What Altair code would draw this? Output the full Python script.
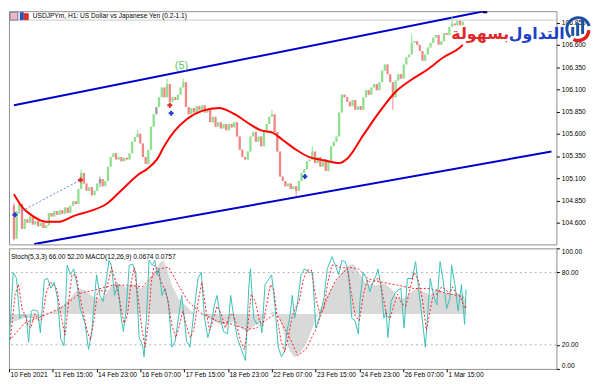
import json
import altair as alt
import pandas as pd

# ---------------- data ----------------
TITLE = "USDJPYm, H1:  US Dollar vs Japanese Yen (0.2-1.1)"
IND_TITLE = "Stoch(5,3,3) 66.00 52.20 MACD(12,26,9) 0.0674 0.0757"

date_labels = ["10 Feb 2021", "11 Feb 15:00", "14 Feb 23:00", "16 Feb 07:00", "17 Feb 15:00",
               "18 Feb 23:00", "22 Feb 07:00", "23 Feb 15:00", "24 Feb 23:00", "26 Feb 07:00",
               "1 Mar 15:00"]
tick_bars = [0, 32, 64, 96, 128, 160, 192, 224, 256, 288, 320]
price_ticks = [104.6, 104.85, 105.1, 105.35, 105.6, 105.85, 106.1, 106.35, 106.6, 106.85]
stoch_ticks = [0, 20, 80, 100]

# candles: one candle per 2 H1 bars, closes (open = previous close)
first_open = 104.79
closes = [104.42, 104.73, 104.81, 104.53, 104.64, 104.60, 104.67, 104.58, 104.62, 104.56,
          104.60, 104.54, 104.57, 104.71, 104.67, 104.73, 104.69, 104.74, 104.70, 104.77,
          104.71, 104.79, 104.84, 104.81, 104.98, 105.16, 105.04, 104.96, 105.00, 104.91,
          104.96, 105.04, 105.09, 105.01, 105.07, 105.23, 105.34, 105.38, 105.31, 105.34,
          105.29, 105.33, 105.31, 105.38, 105.51, 105.56, 105.60, 105.49, 105.34, 105.26,
          105.42, 105.68, 105.82, 105.90, 106.01, 106.12, 106.01, 106.16, 105.96, 106.01,
          105.98, 106.04, 106.12, 106.18, 105.90, 105.82, 105.89, 105.84, 105.91, 105.87,
          105.92, 105.84, 105.87, 105.73, 105.79, 105.68, 105.73, 105.66, 105.71, 105.64,
          105.71, 105.67, 105.73, 105.57, 105.42, 105.34, 105.31, 105.40, 105.57, 105.62,
          105.51, 105.57, 105.46, 105.62, 105.71, 105.79, 105.82, 105.62, 105.40, 105.12,
          105.07, 105.01, 105.04, 104.98, 105.01, 104.96, 105.07, 105.16, 105.20, 105.29,
          105.31, 105.40, 105.27, 105.34, 105.23, 105.31, 105.18, 105.29, 105.46, 105.51,
          105.57, 105.84, 106.04, 106.01, 105.96, 105.91, 105.98, 105.87, 105.91, 105.87,
          106.01, 106.09, 106.04, 106.12, 106.16, 106.09, 106.18, 106.31, 106.38, 106.27,
          106.18, 106.01, 106.20, 106.27, 106.22, 106.38, 106.46, 106.49, 106.62, 106.64,
          106.60, 106.53, 106.42, 106.49, 106.57, 106.62, 106.68, 106.71, 106.60, 106.64,
          106.73, 106.71, 106.80, 106.84, 106.82, 106.87, 106.82, 106.86]
wick_idx = [0, 25, 32, 46, 57, 63, 96, 105, 111, 141, 148, 163]
wick_high = [104.82, 105.20, 105.12, 105.64, 106.22, 106.22, 105.87, 105.01, 105.46, 106.18, 106.72, 106.92]
wick_low = [104.40, 104.98, 105.00, 105.56, 106.01, 106.12, 105.79, 104.90, 105.31, 105.87, 106.49, 106.80]
doji_idx = [32, 53]

# moving average
ma_bar = [0, 6.5, 13.6, 20.8, 23.7, 33, 45.2, 56.6, 68.8, 81,
          92.5, 99.6, 106.8, 111.8, 119, 128.3, 140.5, 152.7, 164.2, 176.3,
          183.5, 192.8, 200, 210, 219.4, 231.5, 242.3, 248, 260.2, 271.7,
          283.9, 296, 307.5, 319.7, 331.9, 334]
ma_price = [104.92, 104.77, 104.68, 104.62, 104.61, 104.61, 104.68, 104.73, 104.81, 104.98,
            105.14, 105.21, 105.32, 105.46, 105.62, 105.76, 105.86, 105.89, 105.82, 105.70,
            105.64, 105.61, 105.53, 105.42, 105.34, 105.30, 105.27, 105.32, 105.59, 105.84,
            106.07, 106.21, 106.32, 106.46, 106.57, 106.60]

# channel
chan_line = ["upper", "upper", "lower", "lower"]
chan_bar = [0, 350.5, 15.1, 400]
chan_price = [105.92, 106.98, 104.36, 105.40]

# trade markers
mark_bar_pos = [0.7, 117, 216.5, 49.5, 116]
mark_price = [104.69, 105.83, 105.12, 105.08, 105.92]
mark_kind = ["buy", "buy", "buy", "sell", "sell"]
trade_bar = [0.7, 49.5]
trade_price = [104.69, 105.08]
ask_line_price = [106.878]

wave_bar, wave_price, wave_text = [124.7], [106.36], ["(5)"]
logo_bar = [389, 347]
logo_price = [106.72, 106.72]
logo_text = ["التداول", "بسهولة"]
logo_kind = ["blue", "red"]

# stochastic main
stoch_bar = [0, 3.1, 5.5, 7.9, 10.3, 12.7, 14.3, 16.3, 18.6, 21.0,
             22.9, 25.8, 28.2, 30.6, 33.0, 35.4, 37.8, 40.2, 42.5, 44.9,
             47.3, 49.7, 52.1, 55.7, 58.1, 60.5, 62.9, 64.0, 66.4, 68.8,
             71.2, 73.1, 74.8, 77.2, 79.6, 82.0, 83.6, 85.6, 87.9, 90.3,
             92.7, 95.1, 97.5, 98.7, 101.1, 102.3, 104.7, 106.6, 108.3, 109.5,
             111.8, 114.2, 116.6, 119.0, 121.4, 123.8, 126.2, 128.1, 129.8, 132.2,
             134.6, 138.1, 140.5, 142.9, 145.3, 147.2, 150.1, 152.0, 154.9, 156.8,
             159.7, 162.0, 164.4, 166.8, 169.2, 172.8, 175.2, 176.4, 178.8, 181.2,
             183.6, 184.8, 187.1, 190.2, 191.9, 194.3, 196.7, 199.1, 201.5, 202.7,
             205.1, 207.0, 208.7, 210.6, 213.4, 215.8, 219.4, 221.8, 224.2, 226.6,
             230.2, 232.5, 236.1, 238.5, 240.9, 243.3, 245.7, 248.1, 250.5, 252.9,
             255.3, 256.4, 258.8, 261.2, 263.6, 266.0, 268.4, 269.6, 272.0, 273.9,
             275.6, 276.8, 279.2, 282.7, 286.3, 288.7, 291.1, 294.7, 297.1, 299.5,
             301.9, 304.2, 305.4, 307.8, 310.2, 312.6, 315.0, 317.4, 319.8, 322.2,
             323.4, 325.8, 328.2, 330.6, 332.9, 334]
stoch_val = [20, 80, 75, 42, 45, 44, 22, 48, 49, 48,
             30, 74, 75, 67, 72, 59, 25, 19, 86, 78,
             83, 70, 50, 37, 16, 31, 64, 78, 61, 56,
             75, 90, 86, 61, 70, 42, 31, 49, 86, 87,
             80, 26, 20, 10, 56, 90, 86, 90, 78, 83,
             61, 67, 53, 18, 23, 42, 61, 42, 23, 18,
             42, 75, 80, 42, 26, 34, 53, 61, 40, 31,
             29, 61, 42, 26, 18, 7, 67, 83, 42, 37,
             40, 30, 70, 75, 78, 53, 18, 10, 15, 29,
             42, 61, 42, 53, 78, 83, 80, 80, 34, 42,
             59, 83, 93, 86, 78, 90, 89, 80, 42, 40,
             29, 56, 80, 75, 64, 72, 78, 83, 67, 42,
             48, 26, 56, 64, 67, 34, 75, 75, 89, 64,
             42, 18, 37, 75, 61, 53, 89, 72, 50, 59,
             86, 70, 48, 70, 37, 66]
# stochastic signal
sig_bar = [1, 4.5, 7, 9.5, 12, 14, 16, 19, 22, 24.5, 27, 30, 32.5, 35, 38, 41, 43.5, 46, 49, 51.5,
           54, 57, 59.5, 62, 64.5, 67, 70, 72.5, 75, 78, 81, 84, 86.5, 89, 91.5, 94, 97, 99.5, 102, 104,
           106, 108, 110.5, 113, 116, 119, 122, 124.5, 127, 129.5, 132.5, 135, 138.5, 141, 144, 146.5,
           149, 152, 155, 158, 161, 163.5, 166, 169, 172, 174.5, 177, 180, 183, 185.5, 188, 191, 193.5,
           196, 199, 201.5, 204, 207, 209, 212, 215, 218, 221, 224, 227, 230, 233, 236, 239, 242,
           244.5, 247, 250, 253, 256, 259, 262, 265, 268, 270.5, 273, 276, 278.5, 281, 284, 287, 290,
           293, 296, 299, 302, 305, 307, 310, 313, 316, 319, 322, 324, 327, 330, 333, 334]
sig_val = [25, 62, 70, 50, 44, 36, 34, 46, 40, 42, 62, 72, 70, 66, 44, 28, 55, 78, 78, 62,
           48, 32, 24, 40, 62, 66, 62, 72, 84, 72, 56, 38, 44, 70, 84, 62, 34, 18, 40, 72,
           86, 84, 74, 68, 58, 36, 26, 36, 48, 36, 26, 32, 58, 72, 48, 32,
           40, 52, 46, 34, 44, 46, 38, 24, 16, 36, 62, 56, 40, 36, 52, 70, 66,
           42, 22, 14, 26, 44, 50, 56, 74, 82, 82, 60, 46, 50, 72, 86, 86, 84,
           84, 84, 64, 44, 40, 62, 74, 70, 74, 76, 62, 44, 42, 52, 62, 54, 52,
           66, 80, 74, 58, 32, 44, 62, 62, 68, 66, 62, 68, 62, 60, 50, 52.2]

# MACD histogram and signal
macd_bar = [0.7, 4.3, 11.5, 18.6, 23.4, 33.0, 40.2, 44.9, 48.5, 52.1,
            55.7, 59.3, 64.0, 68.8, 73.6, 78.4, 82.0, 85.6, 89.1, 92.7,
            96.3, 99.9, 103.5, 107.1, 110.7, 113.0, 115.4, 119.0, 123.8, 128.6,
            133.4, 140.5, 145.3, 150.1, 154.9, 159.7, 164.4, 169.2, 174.0, 178.8,
            183.6, 188.3, 193.1, 196.7, 200.3, 205.1, 208.7, 212.2, 217.0, 221.8,
            225.4, 229.0, 233.7, 238.5, 243.3, 248.1, 251.7, 255.3, 260.0, 264.8,
            269.6, 274.4, 279.2, 283.9, 288.7, 293.5, 298.3, 303.0, 307.8, 312.6,
            317.4, 322.2, 327.0, 331.7, 334]
macd_val = [-0.048, -0.039, -0.021, -0.021, -0.004, 0.014, 0.050, 0.085, 0.120, 0.138,
            0.129, 0.103, 0.085, 0.085, 0.138, 0.173, 0.156, 0.147, 0.165, 0.156,
            0.138, 0.156, 0.200, 0.235, 0.280, 0.289, 0.244, 0.156, 0.085, 0.050,
            0.014, -0.004, -0.021, -0.039, -0.057, -0.048, -0.039, -0.074, -0.101, -0.065,
            -0.039, -0.004, 0.014, -0.004, -0.092, -0.198, -0.234, -0.216, -0.163, -0.074,
            -0.004, 0.050, 0.120, 0.173, 0.227, 0.262, 0.271, 0.227, 0.173, 0.156,
            0.156, 0.165, 0.138, 0.085, 0.085, 0.120, 0.138, 0.120, 0.103, 0.138,
            0.120, 0.103, 0.112, 0.103, 0.0674]
msig_bar = [0, 11.5, 21.0, 37.8, 52.1, 61.7, 76.0, 88.0, 97.5, 109.5,
            116.6, 123.8, 131.0, 140.5, 152.5, 164.4, 174.0, 181.2, 188.3, 195.5,
            205.1, 211.1, 217.0, 224.2, 231.4, 238.5, 248.1, 255.3, 262.4, 272.0,
            283.9, 295.9, 307.8, 319.8, 331.7, 334]
msig_val = [-0.145, -0.048, -0.021, 0.032, 0.112, 0.129, 0.156, 0.156, 0.147, 0.244,
            0.253, 0.156, 0.067, 0.005, -0.039, -0.057, -0.083, -0.074, -0.030, 0.005,
            -0.127, -0.225, -0.189, -0.083, 0.067, 0.182, 0.253, 0.244, 0.191, 0.173,
            0.156, 0.138, 0.138, 0.112, 0.094, 0.0757]
levels = [20, 80]

# ---------------- styling ----------------
FONT = "Liberation Sans, Arial, sans-serif"
FS = 6.7
UP, DOWN, DOJI = "#8fdf8f", "#f28585", "#9a9a9a"
W, H_MAIN, H_IND = 554, 236, 122
xs = alt.Scale(domain=[0, 400], nice=False, zero=False)
ps = alt.Scale(domain=[104.356, 106.978], nice=False, zero=False)
ss = alt.Scale(domain=[0, 100], nice=False, zero=False)
ms = alt.Scale(domain=[-0.296, 0.355], nice=False, zero=False)

price_axis = alt.Axis(orient="right", values=price_ticks, format=".3f", title=None, grid=False,
                      domain=False, tickSize=3, tickColor="#000", labelColor="#000",
                      labelFont=FONT, labelFontSize=FS, labelPadding=2, labelOverlap=False)
stoch_axis = alt.Axis(orient="right", values=stoch_ticks, format=".2f", title=None, grid=False,
                      domain=False, tickSize=3, tickColor="#000", labelColor="#000",
                      labelFont=FONT, labelFontSize=FS, labelPadding=2, labelFlush=True,
                      labelOverlap=False)
label_expr = "{}[indexof({}, datum.value)]".format(json.dumps(date_labels), json.dumps(tick_bars))
time_axis = alt.Axis(values=tick_bars, labelExpr=label_expr, title=None, grid=False, domain=False,
                     tickSize=3, tickColor="#000", labelColor="#000", labelFont=FONT,
                     labelFontSize=FS, labelAlign="left", labelBaseline="top", labelPadding=0,
                     labelOffset=1, labelFlush=False, labelOverlap=False)

# ---------------- tables ----------------
opens = [first_open] + closes[:-1]
highs = [max(o, c) for o, c in zip(opens, closes)]
lows = [min(o, c) for o, c in zip(opens, closes)]
for k, i in enumerate(wick_idx):
    highs[i] = wick_high[k]
    lows[i] = wick_low[k]
cols = []
for i, (o, c) in enumerate(zip(opens, closes)):
    cols.append(DOJI if i in doji_idx else (UP if c >= o else DOWN))
candles = pd.DataFrame({"bar": [2 * i for i in range(len(closes))], "open": opens,
                        "close": closes, "high": highs, "low": lows, "col": cols})


def X(f="bar"):
    return alt.X(f"{f}:Q", scale=xs, axis=None)


def P(f):
    return alt.Y(f"{f}:Q", scale=ps, axis=price_axis)


wicks = alt.Chart(candles).mark_rule(strokeWidth=1, clip=True).encode(
    x=X(), y=P("low"), y2="high:Q", color=alt.Color("col:N", scale=None))
bodies = alt.Chart(candles).mark_bar(size=2.3, clip=True).encode(
    x=X(), y=P("open"), y2="close:Q", color=alt.Color("col:N", scale=None))
ask = alt.Chart(pd.DataFrame({"price": ask_line_price})).mark_rule(
    color="#c8c8c8", strokeWidth=1).encode(y=P("price"))
ma = alt.Chart(pd.DataFrame({"bar": ma_bar, "price": ma_price})).mark_line(
    color="#ff0000", strokeWidth=2, interpolate="monotone", clip=True).encode(x=X(), y=P("price"))
chan = alt.Chart(pd.DataFrame({"bar": chan_bar, "price": chan_price, "line": chan_line})).mark_line(
    color="#0000cc", strokeWidth=2, clip=True).encode(x=X(), y=P("price"), detail="line:N")
chan_end = alt.Chart(pd.DataFrame({"bar": chan_bar[1:2], "price": chan_price[1:2]})).mark_point(
    shape="square", filled=True, size=22, color="#000060", opacity=1, clip=True).encode(
    x=X(), y=P("price"))
trade = alt.Chart(pd.DataFrame({"bar": trade_bar, "price": trade_price})).mark_line(
    color="#5a7fd8", strokeWidth=1, strokeDash=[2, 2], clip=True).encode(x=X(), y=P("price"))
marks = alt.Chart(pd.DataFrame({"bar": mark_bar_pos, "price": mark_price, "k": mark_kind})).mark_point(
    shape="cross", filled=True, size=26, opacity=1, clip=True).encode(
    x=X(), y=P("price"),
    color=alt.Color("k:N", scale=alt.Scale(domain=["buy", "sell"], range=["#1e40c8", "#e02828"]), legend=None))
wave = alt.Chart(pd.DataFrame({"bar": wave_bar, "price": wave_price, "t": wave_text})).mark_text(
    color="#5cc45c", fontSize=11, font="Liberation Sans").encode(x=X(), y=P("price"), text="t:N")
logo = alt.Chart(pd.DataFrame({"bar": logo_bar, "price": logo_price, "t": logo_text, "k": logo_kind})).mark_text(
    fontSize=16, fontWeight="bold", font="DejaVu Sans").encode(
    x=X(), y=P("price"), text="t:N",
    color=alt.Color("k:N", scale=alt.Scale(domain=["blue", "red"], range=["#1f4fa0", "#e01e1e"]), legend=None))
one = pd.DataFrame({"t": [TITLE]})
title = alt.Chart(one).mark_text(align="left", baseline="middle", font=FONT, fontSize=FS,
                                 color="#000").encode(text="t:N", x=alt.value(24), y=alt.value(5))
icon1 = alt.Chart(one).mark_rect(fill="#f0b8bc", stroke="#6c7cae", strokeWidth=1).encode(
    x=alt.value(1), x2=alt.value(9), y=alt.value(1), y2=alt.value(9))
icon2 = alt.Chart(one).mark_rect(fill="#2f4fc0").encode(
    x=alt.value(11), x2=alt.value(15), y=alt.value(1), y2=alt.value(9))
icon3 = alt.Chart(one).mark_rect(fill="#d83030").encode(
    x=alt.value(15), x2=alt.value(20), y=alt.value(2), y2=alt.value(9))
ring = alt.Chart(one).mark_arc(innerRadius=10, outerRadius=13, theta=3.9, theta2=7.6,
                               color="#1f4fa0").encode(x=alt.value(576), y=alt.value(18))
swoosh = alt.Chart(one).mark_arc(innerRadius=9, outerRadius=12.5, theta=1.6, theta2=3.6,
                                 color="#e01e1e").encode(x=alt.value(576), y=alt.value(19))
lb1 = alt.Chart(one).mark_rect(color="#1f4fa0").encode(
    x=alt.value(569), x2=alt.value(572), y=alt.value(16), y2=alt.value(25))
lb2 = alt.Chart(one).mark_rect(color="#1f4fa0").encode(
    x=alt.value(574), x2=alt.value(577), y=alt.value(12), y2=alt.value(25))
lb3 = alt.Chart(one).mark_rect(color="#1f4fa0").encode(
    x=alt.value(579), x2=alt.value(582), y=alt.value(8), y2=alt.value(23))

main = alt.layer(ask, chan, wicks, bodies, ma, trade, marks, chan_end, wave, logo,
                 title, icon1, icon2, icon3, ring, swoosh, lb1, lb2, lb3).properties(
    width=W, height=H_MAIN)

# ---------------- indicator panel ----------------
XT = alt.X("bar:Q", scale=xs, axis=time_axis)
macd_area = alt.Chart(pd.DataFrame({"bar": macd_bar, "v": macd_val})).mark_area(
    color="#d9d9d9", clip=True).encode(x=XT, y=alt.Y("v:Q", scale=ms, axis=None), y2=alt.datum(0))
macd_sig = alt.Chart(pd.DataFrame({"bar": msig_bar, "v": msig_val})).mark_line(
    color="#ff2020", strokeWidth=1, strokeDash=[2, 2], clip=True).encode(
    x=XT, y=alt.Y("v:Q", scale=ms, axis=None))
lev = alt.Chart(pd.DataFrame({"v": levels})).mark_rule(
    color="#b4b4b4", strokeDash=[2, 3], strokeWidth=1).encode(y=alt.Y("v:Q", scale=ss, axis=None))
st_main = alt.Chart(pd.DataFrame({"bar": stoch_bar, "v": stoch_val})).mark_line(
    color="#3cc0b8", strokeWidth=1, clip=True).encode(x=XT, y=alt.Y("v:Q", scale=ss, axis=stoch_axis))
st_sig = alt.Chart(pd.DataFrame({"bar": sig_bar, "v": sig_val})).mark_line(
    color="#ff2020", strokeWidth=1, strokeDash=[2, 2], clip=True).encode(
    x=XT, y=alt.Y("v:Q", scale=ss, axis=None))
ind_title = alt.Chart(pd.DataFrame({"t": [IND_TITLE]})).mark_text(
    align="left", baseline="middle", font=FONT, fontSize=FS, color="#000").encode(
    text="t:N", x=alt.value(2), y=alt.value(9))

ind = alt.layer(macd_area, lev, macd_sig, st_main, st_sig, ind_title).resolve_scale(
    y="independent").properties(width=W, height=H_IND)

chart = alt.vconcat(main, ind, spacing=2).properties(padding=0).configure_view(
    stroke="#8c8c8c", strokeWidth=1)

chart.save("out.html", embed_options={"renderer": "svg", "actions": False})
